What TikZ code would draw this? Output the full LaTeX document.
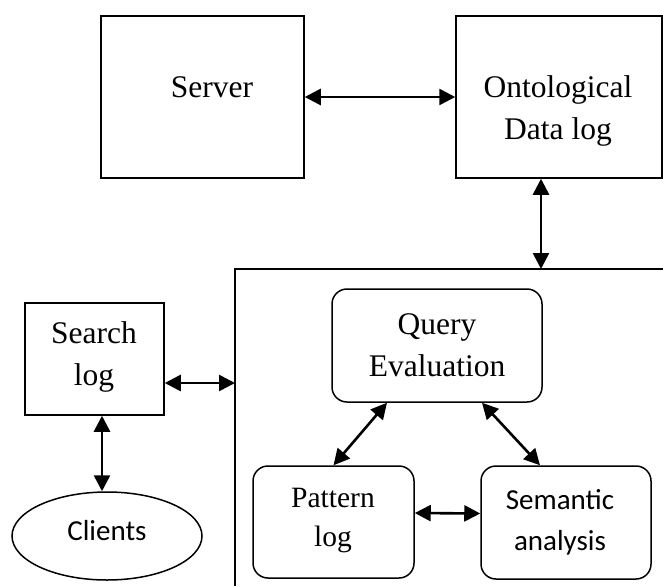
\documentclass[tikz,border=0pt]{standalone}
\usepackage{fontspec}
\setmainfont{Liberation Serif}
\newfontfamily\calib{Carlito}
\usetikzlibrary{arrows.meta,shapes.geometric}
\tikzset{
  box/.style={draw, line width=1.5pt, inner sep=0pt},
  rbox/.style={box, rounded corners=15pt},
  arr/.style={line width=2.6pt, {Triangle[length=16pt,width=16pt]}-{Triangle[length=16pt,width=16pt]}},
  tnr/.style={font=\fontsize{31.5}{42}\selectfont, align=center, inner sep=0pt, anchor=base},
  tnrs/.style={font=\fontsize{29.5}{39}\selectfont, align=center, inner sep=0pt, anchor=base},
  cal/.style={font=\calib\fontsize{29}{41}\selectfont, align=center, inner sep=0pt, anchor=base},
}
\begin{document}
\begin{tikzpicture}[x=1pt,y=-1pt]
\useasboundingbox (0,0) rectangle (663,586);
% boxes
\node[box, minimum width=203pt, minimum height=162pt] (server) at (202.5,97) {};
\node[box, minimum width=206pt, minimum height=162pt] (onto) at (559,97) {};
\node[box, minimum width=139pt, minimum height=112pt] (search) at (94.5,359) {};
\node[draw, line width=1.5pt, ellipse, minimum width=190pt, minimum height=88pt, inner sep=0pt] (clients) at (107,536) {};
\node[rbox, minimum width=210pt, minimum height=113pt] (query) at (437,345.5) {};
\node[rbox, minimum width=161pt, minimum height=112pt] (pattern) at (333.5,522) {};
\node[rbox, minimum width=170pt, minimum height=113pt] (semantic) at (566,522.5) {};
% frame
\coordinate (ftop) at (541,269);
\coordinate (fcorner) at (235,269);
\coordinate (fleft) at (235,383);
\draw[line width=1.5pt] (663,269) -- (fcorner) -- (235,586);
% texts (base anchor = baseline of last line)
\node[tnr] (tserver) at (212,97) {Server};
\node[tnr] (tonto) at (558,139) {Ontological\\Data log};
\node[tnr] (tsearch) at (94,385) {Search\\log};
\node[tnr] (tquery) at (437,376) {Query\\Evaluation};
\node[tnrs] (tpattern) at (333,546) {Pattern\\log};
\node[cal] (tsem) at (560,550) {Semantic\\analysis};
\node[cal] (tclients) at (107,540) {Clients};
% connectors
\draw[arr] (server.east) -- (onto.west);
\draw[arr] (onto.south -| ftop) -- (ftop);
\draw[arr] ([yshift=-24pt]search.east) -- (fleft);
\draw[arr] ([xshift=7.5pt]search.south) -- ([xshift=-5pt]clients.north);
\draw[arr] ([xshift=-50pt]query.south) -- (pattern.north);
\draw[arr] ([xshift=45pt]query.south) -- ([xshift=-26pt]semantic.north);
\draw[arr] ([yshift=9pt]pattern.east) -- ([yshift=9pt]semantic.west);
\end{tikzpicture}
\end{document}
